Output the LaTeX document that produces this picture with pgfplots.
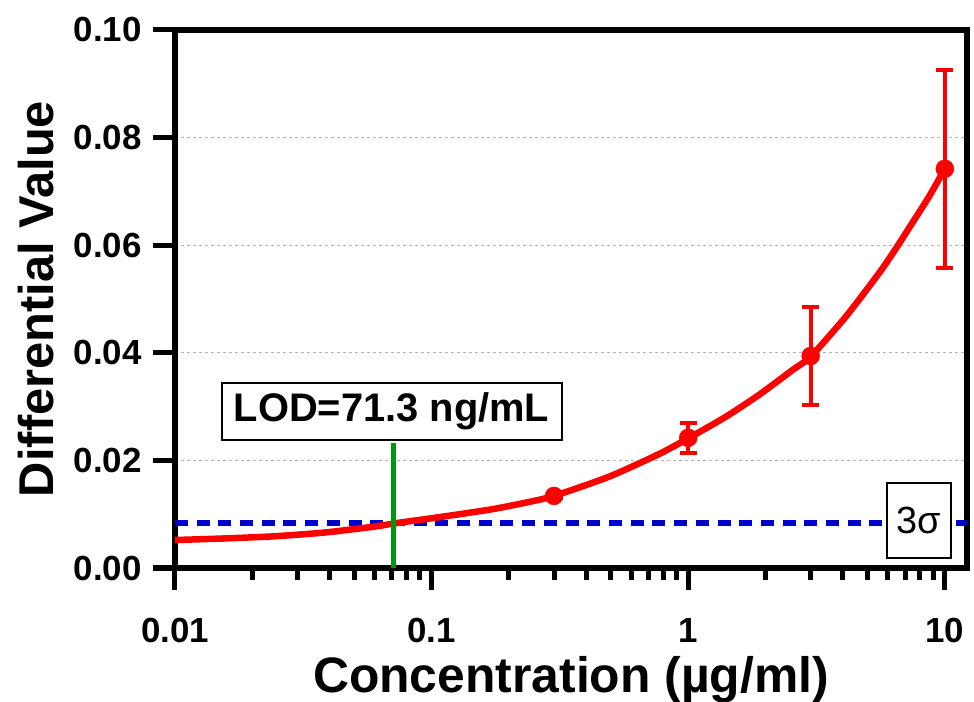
\documentclass[border=0pt]{standalone}
\usepackage{fontspec}
\setmainfont{Liberation Sans}
\usepackage{pgfplots}
\pgfplotsset{compat=1.18}
\definecolor{fitred}{RGB}{255,0,0}
\definecolor{sigblue}{RGB}{0,0,204}
\definecolor{lodgreen}{RGB}{0,150,20}

\begin{document}
\begin{tikzpicture}
\useasboundingbox (0,0) rectangle (974bp,702bp);
\begin{axis}[at={(175bp,134bp)},anchor=south west,
 scale only axis,width=792bp,height=538bp,
 xmode=log,xmin=0.01,xmax=12.2,ymin=0,ymax=0.1,
 axis line style={line width=5.5bp},
 tick style={line width=5bp,black},
 major tick length=22bp,minor tick length=12bp,tick align=outside,
 xtick pos=bottom,ytick pos=left,
 xtick={0.01,0.1,1,10},xticklabels={0.01,0.1,1,10},
 minor xtick={0.02,0.03,0.04,0.05,0.06,0.07,0.08,0.09,0.2,0.3,0.4,0.5,0.6,0.7,0.8,0.9,2,3,4,5,6,7,8,9},
 ytick={0,0.02,0.04,0.06,0.08,0.1},yticklabels={0.00,0.02,0.04,0.06,0.08,0.10},
 ticklabel style={font=\fontsize{35}{40}\selectfont\bfseries},
 xticklabel style={yshift=-25bp},yticklabel style={xshift=-8bp},
 ymajorgrids,grid style={dash pattern=on 3bp off 3bp,black!30,line width=1bp},
 xlabel={Concentration (µg/ml)},
 xlabel style={font=\fontsize{50}{58}\selectfont\bfseries,at={(axis description cs:0.5,-0.2305)},anchor=base},
 ylabel={Differential Value},
 ylabel style={font=\fontsize{49}{56}\selectfont\bfseries,at={(axis description cs:-0.1528,0.5)},anchor=base}]
% 3 sigma threshold
\addplot[sigblue,line width=6bp,dash pattern=on 13bp off 8.7bp] coordinates {(0.01,0.0083) (12.2,0.0083)};
% fitted curve
\addplot[fitred,line width=6.5bp,smooth,tension=0.4,no markers] coordinates {
 (0.01,0.0052) (0.0157,0.0055) (0.0245,0.0059) (0.0384,0.0066) (0.06,0.0077)
 (0.0718,0.0083) (0.109,0.0095) (0.171,0.0109) (0.23,0.0121) (0.3,0.0134)
 (0.493,0.0170) (0.771,0.0212) (1,0.0241) (1.40,0.0281) (1.89,0.0322)
 (2.55,0.0368) (3,0.0393) (4.11,0.0467) (5.54,0.0548) (6.43,0.0593)
 (7.46,0.0641) (8.67,0.0690) (10,0.0742)};
% measured points
\addplot[fitred,only marks,mark=*,mark size=9bp,
 error bars/.cd,y dir=both,y explicit,
 error bar style={line width=4bp},
 error mark options={rotate=90,mark size=8.5bp,line width=4bp}]
 coordinates {(0.3,0.0134) +- (0,0.0004) (1,0.0242) +- (0,0.0028)
 (3,0.0394) +- (0,0.0091) (10,0.0742) +- (0,0.0184)};
% LOD marker
\addplot[lodgreen,line width=5bp] coordinates {(0.0713,0) (0.0713,0.0232)};
\node[draw,line width=2bp,fill=white,minimum width=340bp,minimum height=57bp,inner sep=0pt,
 font=\fontsize{40}{46}\selectfont\bfseries] at (axis cs:0.0698,0.0291) {LOD=71.3 ng/mL};
\node[draw,line width=2bp,fill=white,minimum width=64bp,minimum height=75bp,inner sep=0pt,
 font=\fontsize{38}{44}\selectfont] at (axis cs:7.93,0.00883) {3σ};
\end{axis}
\end{tikzpicture}
\end{document}
